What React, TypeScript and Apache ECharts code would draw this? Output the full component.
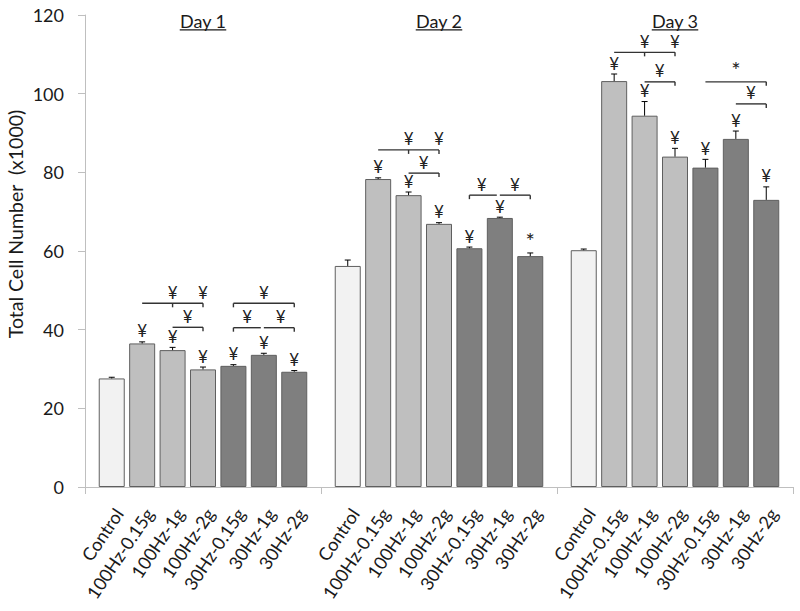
import React, { useEffect, useRef } from 'react';
import * as echarts from 'echarts';

// ---------- data ----------
const days = ['Day 1', 'Day 2', 'Day 3'];
const groupNames = ['Control', '100Hz-0.15g', '100Hz-1g', '100Hz-2g', '30Hz-0.15g', '30Hz-1g', '30Hz-2g'];

// means (x1000 cells) per group, for Day 1, Day 2, Day 3
const controlMean = [27.6, 56.2, 60.2];
const hz100g015Mean = [36.5, 78.3, 103.2];
const hz100g1Mean = [34.8, 74.2, 94.4];
const hz100g2Mean = [29.9, 66.9, 84.0];
const hz30g015Mean = [30.8, 60.7, 81.2];
const hz30g1Mean = [33.6, 68.4, 88.5];
const hz30g2Mean = [29.3, 58.7, 73.0];

// error (upper) per group
const controlErr = [0.3, 1.5, 0.3];
const hz100g015Err = [0.4, 0.3, 1.8];
const hz100g1Err = [0.7, 0.8, 3.6];
const hz100g2Err = [0.6, 0.3, 2.1];
const hz30g015Err = [0.3, 0.3, 2.1];
const hz30g1Err = [0.4, 0.2, 2.0];
const hz30g2Err = [0.3, 0.8, 3.3];

// significance marks above each bar
const controlMark = ['', '', ''];
const hz100g015Mark = ['¥', '¥', '¥'];
const hz100g1Mark = ['¥', '¥', '¥'];
const hz100g2Mark = ['¥', '¥', '¥'];
const hz30g015Mark = ['¥', '¥', '¥'];
const hz30g1Mark = ['¥', '¥', '¥'];
const hz30g2Mark = ['¥', '*', '¥'];

// comparison brackets: day, from bar, to bar, level (y value), down-ticks, marks [bar position, text]
const brackets = [
  { day: 0, from: 1, to: 3, level: 46.7, ticks: [2, 3], marks: [[2, '¥'], [3, '¥']] },
  { day: 0, from: 2, to: 3, level: 40.6, ticks: [3], marks: [[2.5, '¥']] },
  { day: 0, from: 4, to: 6, level: 46.7, ticks: [4, 6], marks: [[5, '¥']] },
  { day: 0, from: 4, to: 4.9, level: 40.5, ticks: [4], marks: [[4.45, '¥']] },
  { day: 0, from: 5, to: 6, level: 40.5, ticks: [6], marks: [[5.55, '¥']] },
  { day: 1, from: 1, to: 3, level: 85.7, ticks: [2, 3], marks: [[2, '¥'], [3, '¥']] },
  { day: 1, from: 2, to: 3, level: 79.8, ticks: [3], marks: [[2.5, '¥']] },
  { day: 1, from: 4, to: 4.9, level: 74.2, ticks: [4], marks: [[4.4, '¥']] },
  { day: 1, from: 5, to: 6, level: 74.2, ticks: [6], marks: [[5.5, '¥']] },
  { day: 2, from: 1, to: 3, level: 110.5, ticks: [2, 3], marks: [[2, '¥'], [3, '¥']] },
  { day: 2, from: 2, to: 3, level: 103.0, ticks: [3], marks: [[2.5, '¥']] },
  { day: 2, from: 4, to: 6, level: 103.0, ticks: [6], marks: [[5, '*']] },
  { day: 2, from: 5, to: 6, level: 97.4, ticks: [6], marks: [[5.5, '¥']] },
];

const means = [controlMean, hz100g015Mean, hz100g1Mean, hz100g2Mean, hz30g015Mean, hz30g1Mean, hz30g2Mean];
const errs = [controlErr, hz100g015Err, hz100g1Err, hz100g2Err, hz30g015Err, hz30g1Err, hz30g2Err];
const marks = [controlMark, hz100g015Mark, hz100g1Mark, hz100g2Mark, hz30g015Mark, hz30g1Mark, hz30g2Mark];

// ---------- style ----------
const FONT = 'Lato, "Open Sans", sans-serif';
const groupColors = ['#f2f2f2', '#bfbfbf', '#bfbfbf', '#bfbfbf', '#7f7f7f', '#7f7f7f', '#7f7f7f'];
const BAR_W = 26;
const BAR_GAP = 0.17;
const SPACING = BAR_W * (1 + BAR_GAP);
const LABEL_ROT = (56 * Math.PI) / 180;
const TITLE_LEVEL = 118.5;
const TEXT_COLOR = '#1a1a1a';
const MARK_SIZE = 17;
const MARK_LH = 13;

function markStyle(txt: string) {
  const star = txt === '*';
  return {
    text: txt,
    align: 'center',
    verticalAlign: 'bottom',
    fontSize: star ? 22 : MARK_SIZE,
    lineHeight: star ? 16 : MARK_LH,
    fontFamily: FONT,
    fill: '#222',
  };
}

function measure(text: string, font: string): number {
  const c = document.createElement('canvas').getContext('2d');
  if (!c) return text.length * 8;
  c.font = font;
  return c.measureText(text).width;
}

export default function App() {
  const ref = useRef<HTMLDivElement>(null);

  useEffect(() => {
    document.body.style.margin = '0';
    if (!ref.current) return;
    const chart = echarts.init(ref.current, null, { renderer: 'svg' });

    const annItems: number[][] = [];
    days.forEach((_, d) => {
      groupNames.forEach((_, k) => {
        annItems.push([d, means[k][d], errs[k][d], k]);
      });
    });

    const barSeries = groupNames.map((name, k) => ({
      type: 'bar',
      name,
      data: means[k],
      barWidth: BAR_W,
      barGap: `${BAR_GAP * 100}%`,
      itemStyle: { color: groupColors[k], borderColor: '#5f5f5f', borderWidth: 1 },
      z: 2,
    }));

    const titleWidth = measure('Day 1', `18px ${FONT}`);

    const option: any = {
      animation: false,
      grid: { left: 85, right: 7, top: 15, bottom: 124, containLabel: false },
      xAxis: {
        type: 'category',
        data: days,
        axisLine: { lineStyle: { color: '#bfbfbf', width: 1 } },
        axisTick: { show: true, length: 7, lineStyle: { color: '#bfbfbf' } },
        axisLabel: { show: false },
        splitLine: { show: false },
      },
      yAxis: {
        type: 'value',
        min: 0,
        max: 120,
        interval: 20,
        axisLine: { show: true, lineStyle: { color: '#bfbfbf', width: 1 } },
        axisTick: { show: true, length: 7, lineStyle: { color: '#bfbfbf' } },
        axisLabel: { margin: 21, fontSize: 18, fontFamily: FONT, color: TEXT_COLOR },
        splitLine: { show: false },
      },
      graphic: [
        {
          type: 'text',
          x: 15,
          y: 224,
          rotation: Math.PI / 2,
          style: {
            text: 'Total Cell Number  (x1000)',
            align: 'center',
            verticalAlign: 'middle',
            fontSize: 19.5,
            fontFamily: FONT,
            fill: TEXT_COLOR,
          },
        },
      ],
      series: [
        ...barSeries,
        {
          type: 'custom',
          name: 'annotations',
          data: annItems,
          encode: { x: 0, y: 1 },
          z: 5,
          clip: false,
          renderItem: (params: any, api: any) => {
            const d = api.value(0);
            const mean = api.value(1);
            const err = api.value(2);
            const k = api.value(3);
            const base = api.coord([d, mean]);
            const x = base[0] + (k - 3) * SPACING;
            const yTop = api.coord([d, mean + err])[1];
            const y0 = api.coord([d, 0])[1];
            const mark = marks[k][d];
            const children: any[] = [
              { type: 'line', shape: { x1: x, y1: base[1], x2: x, y2: yTop }, style: { stroke: '#000', lineWidth: 1 } },
              { type: 'line', shape: { x1: x - 3, y1: yTop, x2: x + 3, y2: yTop }, style: { stroke: '#000', lineWidth: 1 } },
              {
                type: 'text',
                x: x + 7,
                y: y0 + 23,
                rotation: LABEL_ROT,
                style: {
                  text: groupNames[k],
                  x: 0,
                  y: 0,
                  align: 'right',
                  verticalAlign: 'middle',
                  fontSize: 18,
                  fontFamily: FONT,
                  fill: TEXT_COLOR,
                },
              },
            ];
            if (mark) {
              children.push({ type: 'text', x, y: yTop - 4.5, style: markStyle(mark) });
            }
            return { type: 'group', children };
          },
        },
        {
          type: 'custom',
          name: 'brackets',
          data: brackets.map((b) => [b.day, b.level]),
          encode: { x: 0, y: 1 },
          z: 6,
          clip: false,
          renderItem: (params: any, api: any) => {
            const b = brackets[params.dataIndex];
            const c = api.coord([b.day, b.level]);
            const xAt = (i: number) => c[0] + (i - 3) * SPACING;
            const y = c[1];
            const children: any[] = [
              { type: 'line', shape: { x1: xAt(b.from), y1: y, x2: xAt(b.to), y2: y }, style: { stroke: '#333', lineWidth: 1.4 } },
            ];
            b.ticks.forEach((t) => {
              children.push({ type: 'line', shape: { x1: xAt(t), y1: y, x2: xAt(t), y2: y + 4 }, style: { stroke: '#333', lineWidth: 1.4 } });
            });
            b.marks.forEach(([pos, txt]) => {
              children.push({ type: 'text', x: xAt(pos as number), y: y - 4.5, style: markStyle(txt as string) });
            });
            return { type: 'group', children };
          },
        },
        {
          type: 'custom',
          name: 'titles',
          data: days.map((_, d) => [d, TITLE_LEVEL]),
          encode: { x: 0, y: 1 },
          z: 6,
          clip: false,
          renderItem: (params: any, api: any) => {
            const c = api.coord([api.value(0), api.value(1)]);
            return {
              type: 'group',
              children: [
                {
                  type: 'text',
                  x: c[0],
                  y: c[1],
                  style: { text: days[params.dataIndex], align: 'center', verticalAlign: 'middle', fontSize: 18, lineHeight: 15, fontFamily: FONT, fill: TEXT_COLOR },
                },
                {
                  type: 'line',
                  shape: { x1: c[0] - titleWidth / 2, y1: c[1] + 9, x2: c[0] + titleWidth / 2, y2: c[1] + 9 },
                  style: { stroke: TEXT_COLOR, lineWidth: 1.2 },
                },
              ],
            };
          },
        },
      ],
    };

    chart.setOption(option);
    return () => chart.dispose();
  }, []);

  return <div ref={ref} style={{ width: 800, height: 611 }} />;
}
